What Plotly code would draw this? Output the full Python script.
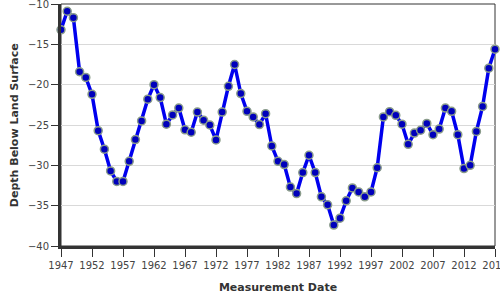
import plotly.graph_objects as go

years = list(range(1947, 2018))
depth = [
    -13.2, -10.9, -11.7, -18.4, -19.1, -21.2, -25.7, -28.0, -30.7, -32.0,
    -32.0, -29.5, -26.8, -24.5, -21.8, -20.0, -21.6, -24.9, -23.75, -22.9,
    -25.6, -25.9, -23.4, -24.4, -25.0, -26.85, -23.4, -20.2, -17.5, -21.1,
    -23.3, -24.0, -24.95, -23.6, -27.6, -29.5, -29.9, -32.7, -33.5, -30.9,
    -28.75, -30.9, -33.9, -34.9, -37.4, -36.55, -34.4, -32.8, -33.3, -33.9,
    -33.3, -30.3, -24.0, -23.35, -23.8, -24.9, -27.4, -26.0, -25.65, -24.8,
    -26.2, -25.5, -22.9, -23.3, -26.2, -30.4, -30.0, -25.8, -22.7, -17.95,
    -15.6,
]
x_ticks = list(range(1947, 2018, 5))
y_ticks = [-40, -35, -30, -25, -20, -15, -10]

fig = go.Figure()
fig.add_trace(go.Scatter(
    x=years, y=depth, mode="lines+markers",
    line=dict(color="#0000ee", width=3.5),
    marker=dict(size=8, color="#0000bb", line=dict(color="#8a9c8a", width=1.5)),
    cliponaxis=False,
))

title_font = dict(family="DejaVu Sans", size=11, color="#333", weight="bold")

fig.update_layout(
    width=500, height=300,
    margin=dict(l=61, r=5, t=4, b=54, autoexpand=False),
    paper_bgcolor="white", plot_bgcolor="white",
    showlegend=False,
    font=dict(family="DejaVu Sans", size=10, color="#444"),
    xaxis=dict(
        range=[1947, 2017], tickvals=x_ticks, ticktext=[str(v) for v in x_ticks],
        showgrid=False, zeroline=False, automargin=False,
        showline=True, linecolor="#333", linewidth=3,
        ticks="outside", ticklen=8, tickcolor="#333", tickwidth=1,
        ticklabeloverflow="allow", tickfont=dict(size=10),
        title=dict(text="Measurement Date", standoff=14, font=title_font),
    ),
    yaxis=dict(
        range=[-40, -10], tickvals=y_ticks,
        showgrid=True, gridcolor="#d9d9d9", gridwidth=1, zeroline=False, automargin=False,
        showline=True, linecolor="#333", linewidth=3,
        ticks="outside", ticklen=7, tickcolor="#333", tickwidth=1,
        ticklabeloverflow="allow", tickfont=dict(size=10),
    ),
    annotations=[dict(text="Depth Below Land Surface", textangle=-90,
                      xref="paper", yref="paper", x=-0.108, y=0.5,
                      xanchor="center", yanchor="middle", showarrow=False,
                      font=title_font)],
    shapes=[dict(type="rect", xref="paper", yref="paper", x0=0, x1=1, y0=0, y1=1,
                 line=dict(color="#333", width=1), layer="below")],
)

fig.write_html("out.html")
